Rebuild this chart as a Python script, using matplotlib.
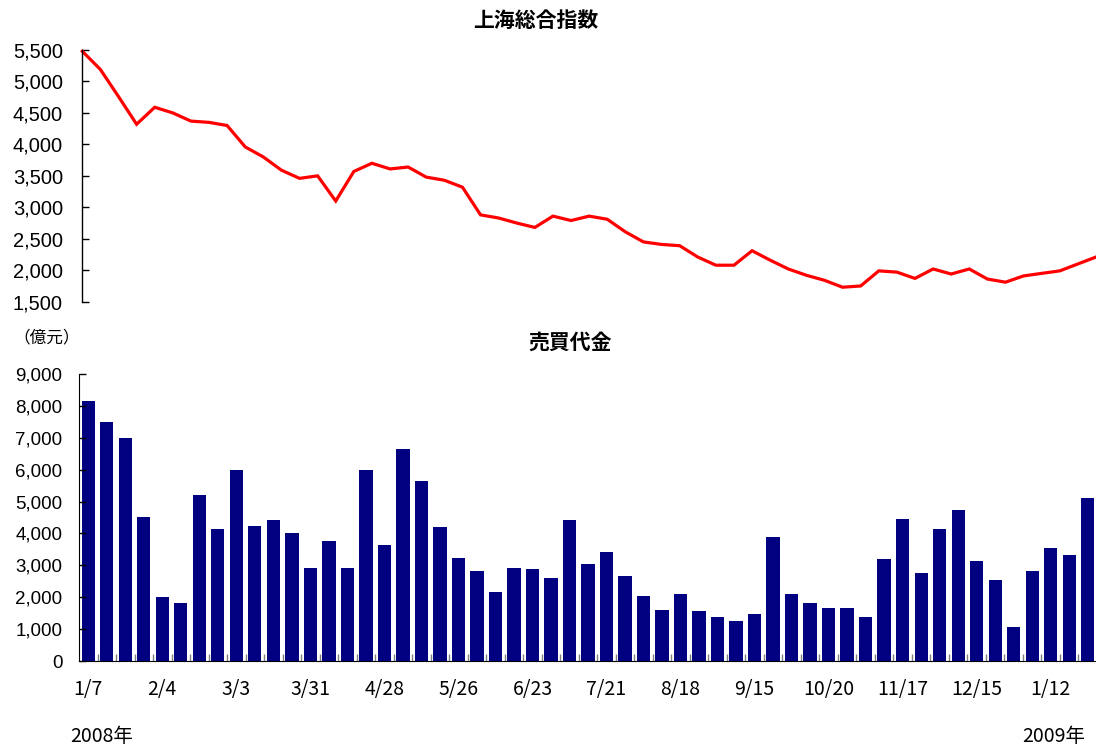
import numpy as np
import matplotlib
matplotlib.use("Agg")
from matplotlib import pyplot as plt
from matplotlib.ticker import FuncFormatter

plt.rcParams['font.family'] = ['Liberation Sans', 'Noto Sans CJK JP', 'DejaVu Sans']

# ------------------------------------------------------------------------------
# Data (weekly, 2008/1/7 - 2009/1)
# ------------------------------------------------------------------------------
indexValues = [5480, 5190, 4760, 4320, 4590, 4500, 4370, 4350, 4300, 3960,
               3800, 3590, 3460, 3500, 3100, 3570, 3700, 3610, 3640, 3480,
               3430, 3320, 2880, 2830, 2750, 2680, 2860, 2790, 2860, 2810,
               2610, 2450, 2410, 2390, 2210, 2080, 2080, 2310, 2160, 2020,
               1920, 1840, 1730, 1750, 1990, 1970, 1870, 2020, 1940, 2020,
               1860, 1810, 1910, 1950, 1990, 2100, 2210]

tradeValues = [8150, 7500, 7000, 4520, 2000, 1820, 5200, 4140, 6000, 4240,
               4430, 4020, 2920, 3770, 2920, 6000, 3640, 6650, 5650, 4210,
               3230, 2820, 2170, 2920, 2890, 2600, 4430, 3040, 3420, 2670,
               2040, 1600, 2100, 1570, 1380, 1260, 1480, 3890, 2100, 1820,
               1660, 1660, 1380, 3200, 4460, 2760, 4140, 4740, 3140, 2540,
               1070, 2820, 3550, 3330, 5120]

dateLabels = ['1/7', '2/4', '3/3', '3/31', '4/28', '5/26', '6/23', '7/21',
              '8/18', '9/15', '10/20', '11/17', '12/15', '1/12']
labelStep = 4

W, H = 1096, 747
fig = plt.figure(figsize=(W / 100, H / 100), dpi=100)

def fx(px):
    return px / W

def fy(py):
    return 1 - py / H

commaFmt = FuncFormatter(lambda v, p: '{:,.0f}'.format(v))

# ------------------------------------------------------------------------------
# Top: index line
# ------------------------------------------------------------------------------
ax1 = fig.add_axes([fx(82.3), fy(301.7), fx(1096 - 82.3), fy(50) - fy(301.7)])
ax1.plot(np.arange(len(indexValues)), indexValues, color='#FF0000', lw=2.3,
         solid_joinstyle='miter', clip_on=False)
ax1.set_xlim(0, len(indexValues) - 1)
ax1.set_ylim(1500, 5500)
ax1.set_yticks(np.arange(1500, 5501, 500))
ax1.yaxis.set_major_formatter(commaFmt)
ax1.set_xticks([])
for s in ['top', 'right', 'bottom']:
    ax1.spines[s].set_visible(False)
ax1.spines['left'].set_linewidth(1.0)
ax1.tick_params(axis='y', direction='in', length=5, width=1, pad=14,
                labelsize=14.5, colors='black')

fig.text(fx(536), fy(20), '上海総合指数', ha='center', va='center',
         fontsize=15, fontweight='bold', family=['Noto Sans CJK JP'])

# ------------------------------------------------------------------------------
# Bottom: trading value bars
# ------------------------------------------------------------------------------
ax2 = fig.add_axes([fx(79), fy(661), fx(1097 - 79), fy(374) - fy(661)])
xb = np.arange(len(tradeValues))
ax2.bar(xb, tradeValues, width=0.72, color='#000080')
ax2.set_xlim(-0.5, len(tradeValues) - 0.5)
ax2.set_ylim(0, 9000)
ax2.set_yticks(np.arange(0, 9001, 1000))
ax2.yaxis.set_major_formatter(commaFmt)
for s in ['top', 'right']:
    ax2.spines[s].set_visible(False)
ax2.tick_params(axis='y', direction='in', length=5, width=1, pad=12,
                labelsize=13.5)

# category boundary ticks
ax2.set_xticks(np.arange(len(tradeValues)) + 0.5)
ax2.set_xticklabels([])
ax2.tick_params(axis='x', which='major', direction='in', length=5, width=1,
                color='#808080')
# date labels
ax2.set_xticks(xb[::labelStep][:len(dateLabels)], minor=True)
ax2.set_xticklabels(dateLabels, minor=True, family=['Noto Sans CJK JP'],
                    fontsize=14)
ax2.tick_params(axis='x', which='minor', length=0, pad=13)

fig.text(fx(570), fy(342), '売買代金', ha='center', va='center',
         fontsize=15, fontweight='bold', family=['Noto Sans CJK JP'])
fig.text(fx(47), fy(338), '（億元）', ha='center', va='center',
         fontsize=12, family=['Noto Sans CJK JP'])
fig.text(fx(102), fy(736), '2008年', ha='center', va='center',
         fontsize=14, family=['Noto Sans CJK JP'])
fig.text(fx(1054), fy(737), '2009年', ha='center', va='center',
         fontsize=14, family=['Noto Sans CJK JP'])

fig.savefig('out.png', dpi=100)
